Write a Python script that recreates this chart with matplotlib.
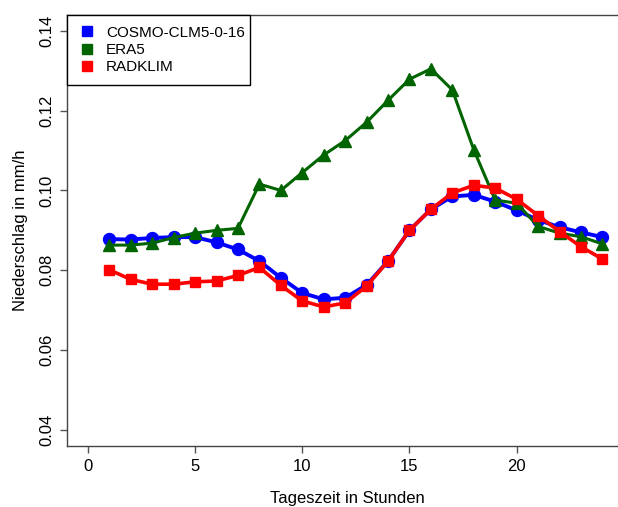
import matplotlib
matplotlib.use("Agg")
import matplotlib.pyplot as plt
from matplotlib.lines import Line2D

plt.rcParams["font.family"] = ["Liberation Sans", "DejaVu Sans"]

hours = list(range(1, 25))

cosmo = [0.0878, 0.0877, 0.0881, 0.0883, 0.0883, 0.0870, 0.0852, 0.0823,
         0.0781, 0.0743, 0.0727, 0.0731, 0.0763, 0.0823, 0.0900, 0.0953,
         0.0985, 0.0989, 0.0972, 0.0950, 0.0926, 0.0908, 0.0895, 0.0883]
era5 = [0.0863, 0.0863, 0.0868, 0.0882, 0.0893, 0.0900, 0.0905, 0.1016,
        0.1000, 0.1045, 0.1089, 0.1125, 0.1171, 0.1226, 0.1279, 0.1305,
        0.1252, 0.1102, 0.0976, 0.0968, 0.0910, 0.0893, 0.0884, 0.0866]
radklim = [0.0801, 0.0777, 0.0765, 0.0765, 0.0771, 0.0773, 0.0787, 0.0807,
           0.0762, 0.0723, 0.0708, 0.0718, 0.0760, 0.0823, 0.0900, 0.0953,
           0.0994, 0.1013, 0.1006, 0.0978, 0.0937, 0.0897, 0.0859, 0.0828]

labels = ["COSMO-CLM5-0-16", "ERA5", "RADKLIM"]
colors = ["#0000FF", "#006400", "#FF0000"]
yticks = [0.04, 0.06, 0.08, 0.10, 0.12, 0.14]
xticks = [0, 5, 10, 15, 20]

fig = plt.figure(figsize=(6.18, 5.07), dpi=100)
ax = fig.add_axes([0.1089, 0.1209, 0.8992, 0.8495])

ax.plot(hours, cosmo, color=colors[0], lw=2.8, marker="o", ms=8.6)
ax.plot(hours, era5, color=colors[1], lw=2.2, marker="^", ms=8.8)
ax.plot(hours, radklim, color=colors[2], lw=2.6, marker="s", ms=7.6)

ax.set_xlim(-0.96, 24.96)
ax.set_ylim(0.036, 0.144)
ax.set_xticks(xticks)
ax.set_xticklabels([str(t) for t in xticks])
ax.set_yticks(yticks)
ax.set_yticklabels(["%.2f" % t for t in yticks], rotation=90, va="center")
ax.tick_params(axis="both", length=5, width=1, color="#555555",
               labelsize=12, pad=4.5)
for s in ax.spines.values():
    s.set_color("#444444")
    s.set_linewidth(1.0)

fig.text(347 / 618, (507 - 503) / 507, "Tageszeit in Stunden",
         ha="center", va="baseline", fontsize=12)
fig.text(25 / 618, (507 - 230) / 507, "Niederschlag in mm/h",
         ha="center", va="baseline", rotation=90, rotation_mode="anchor",
         fontsize=12)

handles = [Line2D([], [], color=c, marker="s", linestyle="none", ms=7.2)
           for c in colors]
leg = ax.legend(handles, labels, loc="upper left",
                bbox_to_anchor=(0, 0, 183 / 555.7, 1), mode="expand",
                borderaxespad=0, borderpad=0.7, handlelength=1.18,
                handletextpad=0.65, labelspacing=0.21, fontsize=11,
                fancybox=False, framealpha=1, edgecolor="black")
leg.get_frame().set_linewidth(1.0)

fig.savefig("out.png", dpi=100)
